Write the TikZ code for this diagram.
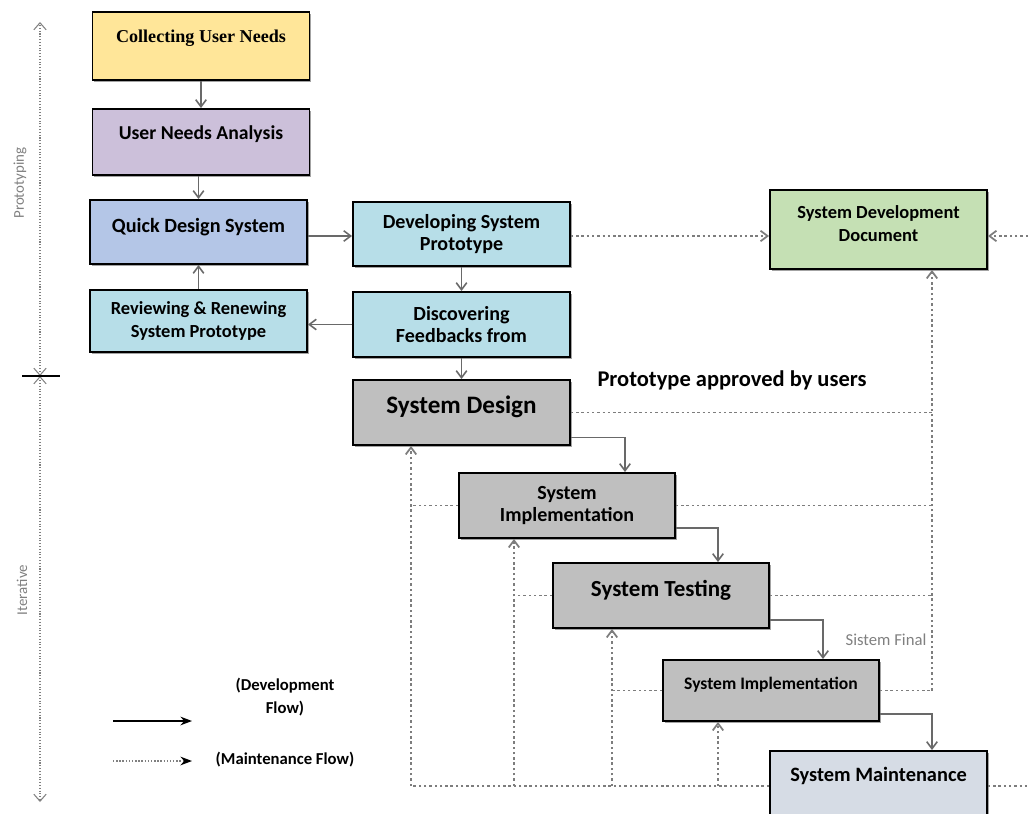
\documentclass[tikz,border=0pt]{standalone}
\usepackage{fontspec}
\setmainfont{Carlito}
\newfontfamily\titlefont{Liberation Serif}
\usepackage{tikz}
\usetikzlibrary{arrows.meta,shadows,calc}

\definecolor{needs}{RGB}{255, 230, 153}
\definecolor{analysis}{RGB}{204, 192, 218}
\definecolor{quick}{RGB}{180, 198, 231}
\definecolor{proto}{RGB}{183, 222, 232}
\definecolor{document}{RGB}{197, 224, 180}
\definecolor{phase}{RGB}{191, 191, 191}
\definecolor{maintain}{RGB}{214, 220, 229}
\definecolor{linegray}{RGB}{105, 105, 105}
\definecolor{dotgray}{RGB}{125, 125, 125}

\tikzset{
    stage/.style={draw=black, line width=1.1pt, align=center, font=\bfseries,
        minimum width=4.34cm, minimum height=1.3cm, inner sep=2pt,
        drop shadow={shadow xshift=1pt, shadow yshift=-1pt, fill=black!60, opacity=0.6}},
    flow/.style={-{Straight Barb[length=4pt,width=6pt]}, draw=linegray, line width=0.9pt},
    maint/.style={-{Straight Barb[length=4pt,width=6pt]}, draw=dotgray, line width=1pt, dash pattern=on 1.4pt off 1.6pt},
    maintline/.style={draw=dotgray, line width=1pt, dash pattern=on 1.4pt off 1.6pt},
}

\begin{document}
\begin{tikzpicture}[x={(0.02cm,0)}, y={(0,-0.02cm)}, >=Stealth]
    \clip (0,0) rectangle (1028,814);

    % prototyping stages
    \node[stage, fill=needs, minimum height=1.36cm, font=\titlefont\bfseries\fontsize{10.3}{12}\selectfont]
        (collect) at (201,46) {Collecting User Needs\\[-0.6pt]};
    \node[stage, fill=analysis, minimum height=1.32cm, font=\bfseries\fontsize{11.2}{12}\selectfont]
        (analysis) at (201,142) {User Needs Analysis\\[-1.8pt]};
    \node[stage, fill=quick, minimum height=1.28cm, font=\bfseries\fontsize{11.5}{12}\selectfont]
        (quick) at (198.5,232) {Quick Design System\\[-4pt]};
    \node[stage, fill=proto, minimum height=1.24cm, font=\bfseries\fontsize{10.5}{13}\selectfont]
        (review) at (198.5,321) {Reviewing \& Renewing\\System Prototype};
    \node[stage, fill=proto, minimum height=1.28cm, font=\bfseries\fontsize{11.4}{13}\selectfont]
        (develop) at (461.5,234) {Developing System\\Prototype};
    \node[stage, fill=proto, font=\bfseries\fontsize{11.4}{13}\selectfont]
        (feedback) at (461.5,324.5) {Discovering\\Feedbacks from};
    \node[stage, fill=document, minimum height=1.58cm, font=\bfseries\fontsize{10.5}{13}\selectfont]
        (sdd) at (878.5,229.5) {System Development\\Document\\[-6.2pt]};

    % iterative stages
    \node[stage, fill=phase, font=\bfseries\fontsize{14.3}{15}\selectfont]
        (design) at (461.5,412.5) {System Design\\[-6.5pt]};
    \node[stage, fill=phase, minimum width=4.32cm, font=\bfseries\fontsize{11.4}{13}\selectfont]
        (implement) at (567,505.5) {System\\Implementation};
    \node[stage, fill=phase, minimum width=4.32cm, font=\bfseries\fontsize{13.1}{14}\selectfont]
        (testing) at (661,595.5) {System Testing\\[-5.5pt]};
    \node[stage, fill=phase, minimum width=4.32cm, minimum height=1.22cm, font=\bfseries\fontsize{10}{11}\selectfont]
        (release) at (771,690.5) {System Implementation\\[-2.5pt]};
    \node[stage, fill=maintain, minimum height=1.4cm, font=\bfseries\fontsize{11.6}{13}\selectfont]
        (maintain) at (878.5,786) {System Maintenance\\[0.6pt]};

    \node[font=\bfseries\fontsize{12.8}{14}\selectfont] (approved) at (732,380) {Prototype approved by users};
    \node[text=gray, font=\fontsize{9.5}{11}\selectfont] (final) at (886,640) {Sistem Final};

    % development flow
    \draw[flow] (collect) -- (analysis);
    \draw[flow] (analysis.south -| quick.north) -- (quick);
    \draw[flow] (review) -- (quick);
    \draw[flow] ([yshift=-0.08cm]quick.east) -- ([yshift=-0.08cm]quick.east -| develop.west);
    \draw[flow] (feedback.west) -- (feedback.west -| review.east);
    \draw[flow] (develop) -- (feedback);
    \draw[flow] (feedback) -- (design);
    \draw[flow] ([yshift=-0.5cm]design.east) -| ([xshift=1.16cm]implement.north);
    \draw[flow] ([yshift=-0.45cm]implement.east) -| ([xshift=1.14cm]testing.north);
    \draw[flow] ([yshift=-0.49cm]testing.east) -| ([xshift=1.04cm]release.north);
    \draw[flow] ([yshift=-0.47cm]release.east) -| ([xshift=1.07cm]maintain.north);

    % maintenance flow
    \coordinate (redge) at (1028,236);
    \coordinate (spine) at (932,692);
    \coordinate (b1) at (411,786);
    \coordinate (b2) at (514,786);
    \coordinate (b3) at (612,786);
    \coordinate (b4) at (718,786);
    \coordinate (bend) at (1028,786);

    \draw[maint] ([yshift=-0.04cm]develop.east) -- ([yshift=-0.04cm]develop.east -| sdd.west);
    \draw[maint] (redge) -- (redge -| sdd.east);
    \draw[maint] (release.east -| spine) -- (spine |- sdd.south);
    \draw[maintline] (design.east) -- (design.east -| spine);
    \draw[maintline] (implement.east) -- (implement.east -| spine);
    \draw[maintline] (testing.east) -- (testing.east -| spine);
    \draw[maintline] (release.east) -- (release.east -| spine);

    \draw[maintline] (maintain.west) -- (b1);
    \draw[maintline] (maintain.east) -- (bend);
    \draw[maint] (b1) -- (b1 |- design.south);
    \draw[maint] (b2) -- (b2 |- implement.south);
    \draw[maint] (b3) -- (b3 |- testing.south);
    \draw[maint] (b4) -- (b4 |- release.south);
    \draw[maintline] (implement.west) -- (implement.west -| b1);
    \draw[maintline] (testing.west) -- (testing.west -| b2);
    \draw[maintline] (release.west) -- (release.west -| b3);

    % phase axis
    \coordinate (axtop) at (40,22);
    \coordinate (axmid) at (40,376);
    \coordinate (axbot) at (40,802);
    \draw[{Straight Barb[length=4pt,width=7pt]}-{Straight Barb[length=4pt,width=7pt]}, gray, densely dotted, line width=0.6pt] (axmid) -- (axtop);
    \draw[{Straight Barb[length=4pt,width=7pt]}-{Straight Barb[length=4pt,width=7pt]}, gray, densely dotted, line width=0.6pt] (axmid) -- (axbot);
    \draw[line width=1pt] ([xshift=-0.36cm]axmid) -- ([xshift=0.4cm]axmid);
    \node[rotate=90, text=gray, font=\fontsize{8.5}{10}\selectfont] (proto) at (20,183) {Prototyping};
    \node[rotate=90, text=gray, font=\fontsize{8.5}{10}\selectfont] (iter) at (22,590) {Iterative};

    % legend
    \coordinate (lg1) at (113,721);
    \coordinate (lg2) at (192,721);
    \coordinate (lg3) at (113,761);
    \coordinate (lg4) at (192,761);
    \draw[->, line width=0.8pt] (lg1) -- (lg2);
    \draw[-{Stealth[black]}, gray, densely dotted, line width=0.8pt] (lg3) -- (lg4);
    \node[align=center, font=\bfseries\fontsize{9.5}{13}\selectfont] (devflow) at (285,697) {(Development\\Flow)};
    \node[font=\bfseries\fontsize{9.5}{11}\selectfont] (mainflow) at (285,760) {(Maintenance Flow)};
\end{tikzpicture}
\end{document}
